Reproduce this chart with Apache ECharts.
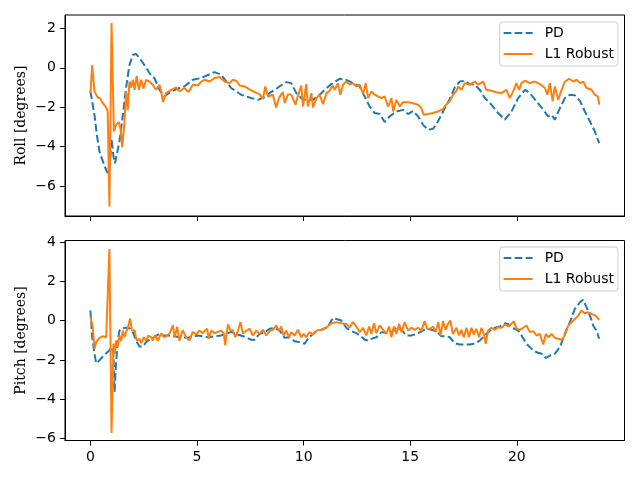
<!DOCTYPE html>
<html><head><meta charset="utf-8">
<script src="https://cdn.jsdelivr.net/npm/echarts@6/dist/echarts.min.js"></script>
<style>html,body{margin:0;padding:0;background:#fff}#c{width:640px;height:480px}</style>
</head><body><div id="c"></div>
<script>
const xTicks = [0, 5, 10, 15, 20];
const rollTicks = [-6, -4, -2, 0, 2];
const pitchTicks = [-6, -4, -2, 0, 2, 4];

const rollPdT = [0,0.19,0.3,0.42,0.66,0.81,0.93,0.99,1.08,1.15,1.36,1.52,1.67,1.83,1.99,2.14,2.38,2.61,2.85,3.0,3.24,3.47,3.79,4.17,4.4,4.8,5.2,5.82,6.13,6.6,7.07,7.46,7.85,8.17,8.4,8.87,9.19,9.42,9.66,9.97,10.44,10.67,10.99,11.3,11.69,12.0,12.31,12.63,12.86,13.1,13.33,13.57,13.8,14.04,14.35,14.66,14.9,15.13,15.37,15.6,15.84,16.07,16.3,16.54,16.85,17.09,17.32,17.56,17.79,18.03,18.26,18.5,18.81,19.12,19.44,19.75,20.06,20.38,20.61,20.92,21.24,21.47,21.63,21.78,22.02,22.25,22.49,22.72,22.96,23.19,23.43,23.66,23.86];
const rollPdV = [-1.2,-2.4,-3.4,-4.25,-5.0,-5.35,-4.7,-3.6,-4.5,-4.85,-3.75,-2.4,-1.03,0.15,0.66,0.70,0.38,0.0,-0.4,-0.52,-1.12,-1.46,-1.2,-1.03,-0.95,-0.61,-0.52,-0.22,-0.35,-1.03,-1.37,-1.51,-1.63,-1.5,-1.29,-0.95,-0.73,-0.78,-1.29,-1.63,-1.63,-1.46,-1.12,-0.83,-0.56,-0.61,-0.78,-0.95,-1.46,-1.97,-2.3,-2.35,-2.76,-2.47,-2.22,-2.14,-2.35,-2.2,-2.47,-2.9,-3.15,-3.1,-2.73,-2.22,-1.6,-1.0,-0.7,-0.66,-0.83,-0.86,-1.12,-1.54,-1.88,-2.3,-2.64,-2.22,-1.54,-1.12,-1.29,-1.71,-2.14,-2.47,-2.39,-2.64,-2.05,-1.54,-1.37,-1.4,-1.68,-2.22,-2.73,-3.24,-3.83];

const rollL1T = [0,0.08,0.19,0.34,0.45,0.58,0.74,0.81,0.89,0.99,1.1,1.2,1.33,1.42,1.49,1.6,1.67,1.75,1.83,1.91,1.99,2.07,2.17,2.27,2.38,2.49,2.61,2.77,2.92,3.08,3.24,3.32,3.4,3.55,3.79,4.02,4.17,4.41,4.6,4.8,5.04,5.2,5.35,5.59,5.82,6.06,6.29,6.53,6.68,6.84,7.0,7.23,7.46,7.7,7.93,8.09,8.2,8.33,8.56,8.71,8.84,9.03,9.11,9.27,9.42,9.62,9.7,9.89,9.97,10.12,10.2,10.36,10.44,10.6,10.75,10.91,11.07,11.22,11.35,11.46,11.61,11.72,11.85,12.0,12.16,12.31,12.47,12.63,12.79,12.91,13.02,13.18,13.33,13.49,13.65,13.8,13.96,14.12,14.2,14.35,14.51,14.66,14.9,15.13,15.37,15.52,15.63,15.84,16.07,16.3,16.54,16.7,16.85,17.01,17.17,17.25,17.4,17.56,17.79,18.03,18.18,18.42,18.57,18.81,19.04,19.28,19.51,19.67,19.83,19.98,20.11,20.22,20.38,20.61,20.85,21.08,21.32,21.43,21.55,21.68,21.78,21.94,22.1,22.25,22.45,22.64,22.8,22.96,23.11,23.27,23.5,23.66,23.8,23.87];
const rollL1V = [-1.29,0.12,-1.2,-1.51,-1.55,-1.8,-2.02,-2.22,-7.05,2.27,-3.24,-2.9,-2.76,-3.15,-4.05,-2.73,-1.2,-2.14,-0.7,-1.0,-0.61,-1.12,-0.41,-1.12,-0.61,-1.05,-0.61,-0.7,-0.86,-1.12,-0.86,-1.2,-1.75,-1.29,-1.12,-1.0,-1.2,-1.03,-1.24,-0.86,-0.9,-0.7,-0.61,-0.7,-0.52,-0.47,-0.7,-0.78,-0.61,-0.66,-0.9,-0.95,-1.1,-1.24,-1.34,-1.58,-0.95,-1.46,-1.37,-2.02,-1.54,-1.24,-1.8,-1.34,-1.37,-1.88,-1.54,-0.9,-1.97,-0.83,-1.97,-1.29,-2.02,-1.54,-1.37,-1.85,-1.29,-1.17,-0.9,-1.12,-0.78,-1.37,-0.86,-0.7,-0.86,-0.78,-0.95,-0.86,-1.34,-0.78,-1.54,-1.2,-1.37,-1.46,-1.54,-1.46,-1.97,-1.54,-2.22,-1.63,-1.97,-1.75,-1.75,-1.8,-1.88,-2.05,-2.39,-2.35,-2.3,-2.22,-2.09,-1.86,-1.7,-1.37,-1.17,-0.95,-1.12,-0.78,-0.86,-0.7,-0.86,-0.7,-1.12,-1.17,-1.24,-1.29,-1.12,-1.54,-1.2,-0.78,-1.12,-0.78,-0.66,-0.78,-0.7,-0.83,-1.03,-1.37,-0.78,-1.71,-0.95,-1.63,-1.12,-0.7,-0.56,-0.7,-0.61,-0.78,-0.7,-1.03,-1.12,-1.37,-1.46,-1.88];

const pitchPdT = [0,0.08,0.19,0.27,0.42,0.58,0.74,0.89,0.99,1.08,1.13,1.2,1.28,1.36,1.52,1.67,1.83,1.99,2.14,2.3,2.46,2.61,2.85,3.0,3.16,3.47,3.79,4.17,4.56,5.04,5.5,6.13,6.6,6.9,7.3,7.54,7.7,7.93,8.17,8.4,8.64,8.87,9.11,9.34,9.58,9.81,10.05,10.2,10.36,10.6,10.83,11.14,11.38,11.54,11.77,12.0,12.24,12.47,12.71,12.86,13.02,13.18,13.41,13.65,13.88,14.12,14.35,14.59,14.82,15.06,15.29,15.53,15.76,16.0,16.23,16.46,16.7,16.85,17.09,17.32,17.56,17.79,18.03,18.26,18.5,18.73,18.97,19.2,19.44,19.59,19.75,19.9,20.06,20.22,20.45,20.69,20.92,21.16,21.36,21.55,21.78,22.02,22.25,22.49,22.72,22.96,23.11,23.27,23.43,23.58,23.74,23.86];
const pitchPdV = [0.51,-0.85,-1.69,-2.17,-2.03,-1.83,-1.66,-1.52,-1.35,-1.69,-3.64,-2.2,-1.02,-0.51,-0.39,-0.36,-0.39,-0.58,-1.02,-1.32,-1.32,-1.1,-0.9,-0.85,-0.71,-0.76,-0.76,-0.85,-0.88,-0.76,-0.85,-0.76,-0.58,-0.71,-0.85,-0.98,-0.98,-0.68,-0.6,-0.42,-0.37,-0.51,-0.88,-0.85,-1.05,-1.1,-1.18,-0.93,-0.76,-0.54,-0.47,-0.30,0.14,0.08,0.0,-0.37,-0.54,-0.64,-0.81,-0.98,-1.02,-0.93,-0.85,-0.59,-0.64,-0.59,-0.37,-0.47,-0.76,-0.76,-0.68,-0.54,-0.42,-0.47,-0.56,-0.8,-0.8,-0.85,-1.15,-1.22,-1.22,-1.22,-1.18,-1.02,-0.76,-0.51,-0.37,-0.30,-0.14,-0.17,-0.37,-0.42,-0.51,-0.76,-1.18,-1.44,-1.61,-1.69,-1.9,-1.78,-1.69,-1.35,-0.68,-0.08,0.59,0.93,1.05,0.68,0.25,-0.25,-0.51,-0.93];

const pitchL1T = [0,0.11,0.19,0.27,0.42,0.58,0.74,0.81,0.89,0.99,1.08,1.15,1.2,1.28,1.36,1.44,1.52,1.6,1.67,1.75,1.86,1.95,2.07,2.17,2.3,2.38,2.5,2.61,2.72,2.85,2.92,3.05,3.16,3.32,3.47,3.71,3.87,3.95,4.07,4.17,4.33,4.48,4.64,4.8,4.95,5.11,5.27,5.47,5.55,5.67,5.82,5.98,6.13,6.26,6.32,6.45,6.57,6.68,6.79,6.92,7.04,7.15,7.3,7.46,7.62,7.78,7.93,8.09,8.25,8.4,8.56,8.72,8.84,8.95,9.06,9.19,9.31,9.42,9.58,9.73,9.89,10.0,10.12,10.28,10.44,10.6,10.83,11.06,11.3,11.53,11.77,12.0,12.16,12.32,12.47,12.63,12.79,12.94,13.07,13.18,13.3,13.41,13.57,13.73,13.88,14.01,14.12,14.23,14.35,14.48,14.59,14.74,14.9,15.06,15.21,15.37,15.52,15.68,15.79,15.92,16.07,16.2,16.31,16.42,16.54,16.66,16.77,16.88,17.0,17.17,17.29,17.4,17.51,17.64,17.76,17.87,17.98,18.1,18.23,18.34,18.45,18.54,18.65,18.81,18.97,19.12,19.28,19.44,19.59,19.75,19.86,19.98,20.14,20.3,20.45,20.61,20.77,20.92,21.08,21.24,21.36,21.49,21.63,21.78,21.94,22.1,22.25,22.41,22.57,22.72,22.88,23.03,23.19,23.35,23.58,23.74,23.86];
const pitchL1V = [0.2,-0.34,-1.44,-1.1,-0.88,-0.8,-0.85,-0.93,3.64,-5.72,-1.18,-1.69,-1.02,-1.35,-0.76,-1.05,-0.51,-0.85,-0.58,-0.41,0.10,-0.51,-0.51,-1.02,-0.93,-1.15,-0.85,-1.02,-0.76,-0.85,-1.02,-0.73,-1.02,-0.66,-0.85,-0.66,-0.24,-0.85,-0.32,-1.02,-0.49,-0.85,-1.02,-0.58,-0.71,-0.51,-0.64,-0.41,-0.93,-0.51,-0.64,-0.58,-0.51,-0.66,-1.26,-0.19,-0.51,-0.49,-0.85,-0.51,-0.08,-0.66,-0.53,-0.42,-0.76,-0.51,-0.68,-0.47,-0.76,-0.54,-0.47,-0.25,-0.54,-0.30,-0.76,-0.51,-0.85,-0.59,-0.76,-0.47,-0.85,-0.68,-0.85,-0.59,-0.71,-0.51,-0.47,-0.37,-0.14,-0.08,-0.14,-0.17,-0.34,-0.08,-0.30,-0.59,-0.37,-0.76,-0.30,-0.68,-0.14,-0.64,-0.25,-0.47,-0.68,-0.30,-0.85,-0.30,-0.68,-0.17,-0.59,-0.08,-0.51,-0.37,-0.47,-0.37,-0.51,-0.03,-0.42,-0.42,-0.30,-0.59,-0.08,-0.76,-0.03,-0.47,-0.17,0.0,-0.68,-0.37,-0.76,-0.47,-0.85,-0.37,-0.85,-0.37,-0.71,-0.42,-0.85,-0.37,-0.68,-1.18,-0.51,-0.37,-0.47,-0.34,-0.37,-0.20,-0.30,-0.17,-0.03,-0.42,-0.47,-0.37,-0.25,-0.59,-0.54,-0.76,-0.68,-1.22,-0.68,-0.85,-0.68,-0.88,-0.93,-0.98,-0.76,-0.25,-0.08,0.08,0.25,0.51,0.37,0.42,0.30,0.20,0.03];

const zip = (t, v) => t.map((x, i) => [x, v[i]]);
const minus = v => String(v).replace('-', '\u2212');
const BLUE = '#1f77b4', ORANGE = '#ff7f0e';
const tickFont = { fontFamily: 'DejaVu Sans', fontSize: 14, color: '#000' };
const DASH_ICON = 'path://M0,0h7.7v2h-7.7z M11,0h7.7v2h-7.7z M22,0h7v2h-7z';
const SOLID_ICON = 'path://M0,0h29v2h-29z';

function xAx(gi, showLabels) {
  return {
    type: 'value', gridIndex: gi, min: -1.193, max: 25.05,
    splitLine: { show: false },
    axisLine: { show: true, onZero: false, lineStyle: { color: '#000', width: 1 } },
    axisTick: { show: true, customValues: xTicks, length: 5, lineStyle: { color: '#000', width: 1 } },
    axisLabel: Object.assign({ show: showLabels, customValues: xTicks, margin: 10, formatter: minus }, tickFont)
  };
}
function yAx(gi, min, max, ticks, name) {
  return {
    type: 'value', gridIndex: gi, min: min, max: max,
    name: name, nameLocation: 'middle', nameGap: 37, nameRotate: 90, nameMoveOverlap: false,
    nameTextStyle: { fontFamily: 'DejaVu Serif', fontSize: 14, color: '#000' },
    splitLine: { show: false },
    axisLine: { show: true, onZero: false, lineStyle: { color: '#000', width: 1 } },
    axisTick: { show: true, customValues: ticks, length: 5, lineStyle: { color: '#000', width: 1 } },
    axisLabel: Object.assign({ customValues: ticks, margin: 9, formatter: minus }, tickFont)
  };
}
function leg(top) {
  return {
    orient: 'vertical', right: 22, top: top,
    data: [{ name: 'PD', icon: DASH_ICON }, { name: 'L1 Robust', icon: SOLID_ICON }],
    symbolKeepAspect: true,
    itemWidth: 29, itemHeight: 14, itemGap: 7,
    padding: [4, 4, 5, 4],
    backgroundColor: 'rgba(255,255,255,0.8)',
    borderColor: '#cccccc', borderWidth: 1, borderRadius: 3,
    textStyle: { fontFamily: 'DejaVu Sans', fontSize: 14, color: '#000', padding: [0, 0, 0, 7] }
  };
}
function ser(name, gi, t, v, color, dashed) {
  return {
    name: name, type: 'line', xAxisIndex: gi, yAxisIndex: gi,
    data: zip(t, v), showSymbol: false, symbol: 'none', animation: false,
    lineStyle: { color: color, width: 2, type: dashed ? [7.7, 3.3] : 'solid' },
    itemStyle: { color: color }
  };
}

const chart = echarts.init(document.getElementById('c'), null, { renderer: 'canvas' });
chart.setOption({
  animation: false,
  backgroundColor: '#fff',
  grid: [
    { left: 65, top: 15, width: 559.5, height: 201, show: true, borderColor: '#000', borderWidth: 1 },
    { left: 65, top: 240.5, width: 559.5, height: 200, show: true, borderColor: '#000', borderWidth: 1 }
  ],
  xAxis: [xAx(0, false), xAx(1, true)],
  yAxis: [yAx(0, -7.53, 2.68, rollTicks, 'Roll [degrees]'), yAx(1, -6.1, 4.07, pitchTicks, 'Pitch [degrees]')],
  legend: [leg(22), leg(247)],
  series: [
    ser('PD', 0, rollPdT, rollPdV, BLUE, true),
    ser('L1 Robust', 0, rollL1T, rollL1V, ORANGE, false),
    ser('PD', 1, pitchPdT, pitchPdV, BLUE, true),
    ser('L1 Robust', 1, pitchL1T, pitchL1V, ORANGE, false)
  ]
});
</script></body></html>
